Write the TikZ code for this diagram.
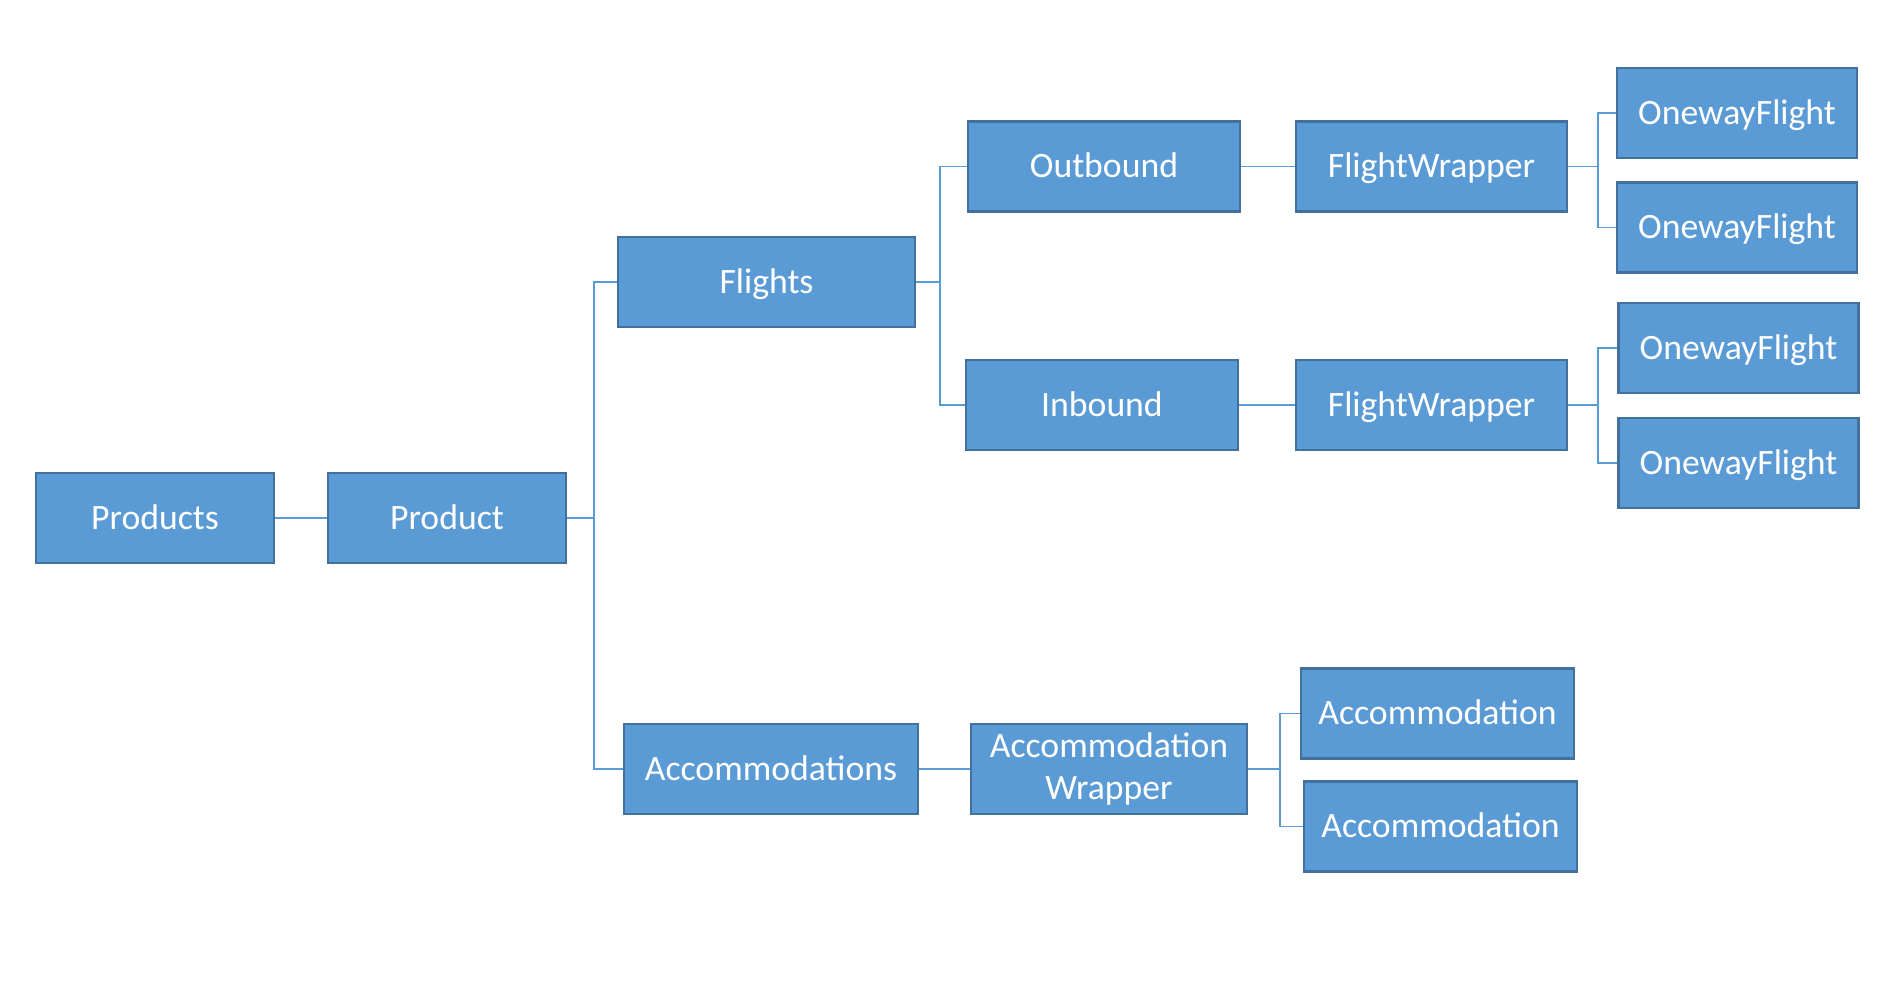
\documentclass[tikz,border=0pt]{standalone}
\usepackage{fontspec}
\setmainfont{Carlito}
\definecolor{boxfill}{HTML}{5B9BD5}
\definecolor{boxline}{HTML}{41719C}
\definecolor{linkcol}{HTML}{5B9BD5}
\tikzset{
  basebox/.style={rectangle,draw=boxline,fill=boxfill,line width=2.5pt,text=white,
    minimum height=90pt,inner sep=0pt,align=center,
    font=\fontsize{35.7}{42}\selectfont},
  item/.style={basebox,text height=28.6pt,text depth=6pt},
  link/.style={draw=linkcol,line width=1.5pt}
}
\begin{document}
\begin{tikzpicture}[x=1pt,y=-1pt]
\useasboundingbox (0,0) rectangle (1877,985);

\node (prods) at (155,518) [item,minimum width=238pt] {Products};
\node (prod) at (447,518) [item,minimum width=238pt] {Product};
\node (flights) at (766.5,282) [item,minimum width=297pt] {Flights};
\node (accs) at (771,769) [item,minimum width=294pt] {Accommodations};
\node (outb) at (1104,166.5) [item,minimum width=272pt] {Outbound};
\node (inb) at (1102,405) [item,minimum width=272pt] {Inbound};
\node (fwa) at (1431.5,166.5) [item,minimum width=271pt] {FlightWrapper};
\node (fwb) at (1431.5,405) [item,minimum width=271pt] {FlightWrapper};
\node (ofa) at (1737,113) [item,minimum width=240pt] {OnewayFlight};
\node (ofb) at (1737,227.5) [item,minimum width=240pt] {OnewayFlight};
\node (ofc) at (1738.5,348) [item,minimum width=240pt] {OnewayFlight};
\node (ofd) at (1738.5,463) [item,minimum width=240pt] {OnewayFlight};
\node (accw) at (1109,769) [basebox,minimum width=276pt] {Accommodation\\Wrapper};
\node (acca) at (1437.5,713.5) [item,minimum width=273pt] {Accommodation};
\node (accb) at (1440.5,826.5) [item,minimum width=273pt] {Accommodation};

% bracket points
\coordinate (b0) at (594,518);
\coordinate (b1) at (940,282);
\coordinate (b2) at (1598,166.5);
\coordinate (b3) at (1598,405);
\coordinate (b4) at (1280,769);

\draw [link] (prods) -- (prod);
\draw [link] (prod.east) -- (b0);
\draw [link] (b0) |- (flights.west);
\draw [link] (b0) |- (accs.west);
\draw [link] (flights.east) -- (b1);
\draw [link] (b1) |- (outb.west);
\draw [link] (b1) |- (inb.west);
\draw [link] (outb) -- (fwa);
\draw [link] (inb) -- (fwb);
\draw [link] (fwa.east) -- (b2);
\draw [link] (b2) |- (ofa.west);
\draw [link] (b2) |- (ofb.west);
\draw [link] (fwb.east) -- (b3);
\draw [link] (b3) |- (ofc.west);
\draw [link] (b3) |- (ofd.west);
\draw [link] (accs) -- (accw);
\draw [link] (accw.east) -- (b4);
\draw [link] (b4) |- (acca.west);
\draw [link] (b4) |- (accb.west);

\end{tikzpicture}
\end{document}
